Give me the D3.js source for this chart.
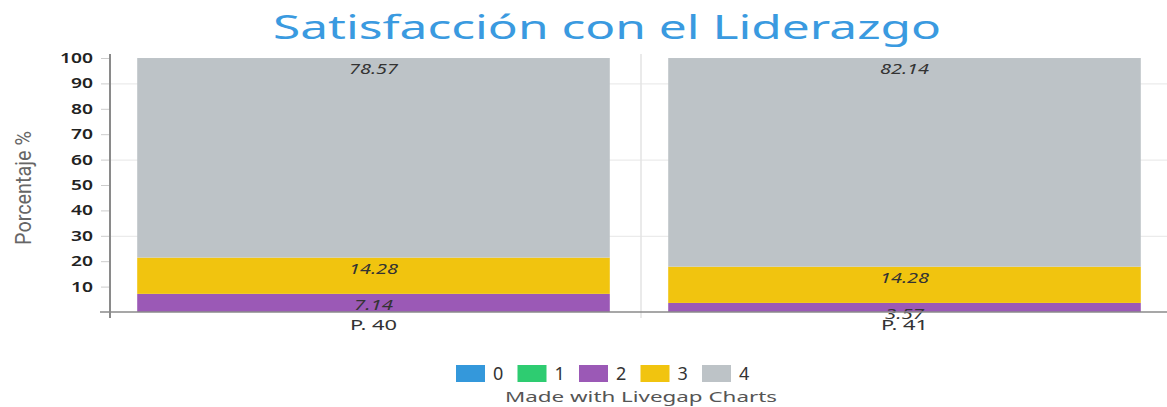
<!DOCTYPE html>
<html>
<head>
<meta charset="utf-8">
<script src="https://cdn.jsdelivr.net/npm/d3@7"></script>
<style>
  body { margin: 0; background: #fff; }
  svg { display: block; font-family: 'Noto Sans', sans-serif; }
</style>
</head>
<body>
<div id="vis"></div>
<script>
// data
var categories = ['P. 40', 'P. 41'];
var seriesKeys = ['0', '1', '2', '3', '4'];
var seriesColors = ['#3498db', '#2ecc71', '#9b59b6', '#f1c40f', '#bdc3c7'];
var values0 = [0, 0];
var values1 = [0, 0];
var values2 = [7.14, 3.57];
var values3 = [14.28, 14.28];
var values4 = [78.57, 82.14];
var yTicks = [10, 20, 30, 40, 50, 60, 70, 80, 90, 100];
var gridTicks = [30, 60, 90];

var width = 1167;
var height = 407;

// build rows for d3.stack
var table = categories.map(function (c, i) {
  return { cat: c, '0': values0[i], '1': values1[i], '2': values2[i], '3': values3[i], '4': values4[i] };
});

var svg = d3.select('#vis').append('svg')
  .attr('width', width)
  .attr('height', height);

var x = d3.scaleBand()
  .domain(categories)
  .range([108, 1170])
  .paddingInner(0.11)
  .paddingOuter(0.055);

var y = d3.scaleLinear()
  .domain([0, 100])
  .range([312, 58]);

var color = d3.scaleOrdinal().domain(seriesKeys).range(seriesColors);

// the original font is much wider, so stretch text to the widths measured
function widen(sel, perChar) {
  sel.attr('textLength', function () { return this.textContent.length * perChar; })
    .attr('lengthAdjust', 'spacingAndGlyphs');
}

// title
svg.append('text')
  .attr('x', 607)
  .attr('y', 39)
  .attr('text-anchor', 'middle')
  .attr('fill', '#3a9ae0')
  .attr('textLength', 668)
  .attr('lengthAdjust', 'spacingAndGlyphs')
  .style('font-size', '32px')
  .text('Satisfacción con el Liderazgo');

// horizontal grid lines
svg.append('g').selectAll('line')
  .data(gridTicks)
  .join('line')
  .attr('x1', 110).attr('x2', width)
  .attr('y1', function (d) { return y(d) + 0.5; })
  .attr('y2', function (d) { return y(d) + 0.5; })
  .attr('stroke', '#e6e6e6');

// vertical line between categories
var mid = (x(categories[0]) + x.bandwidth() + x(categories[1])) / 2 + 2;
svg.append('line')
  .attr('x1', mid).attr('x2', mid)
  .attr('y1', 54).attr('y2', 318)
  .attr('stroke', '#e3e3e3')
  .attr('stroke-width', 1.5);

// stacked bars
var stacked = d3.stack().keys(seriesKeys)(table);

var layers = svg.append('g').selectAll('g')
  .data(stacked)
  .join('g')
  .attr('fill', function (d) { return color(d.key); });

layers.selectAll('rect')
  .data(function (d) { return d; })
  .join('rect')
  .attr('x', function (d) { return x(d.data.cat); })
  .attr('width', x.bandwidth())
  .attr('y', function (d) { return y(d[1]); })
  .attr('height', function (d) { return y(d[0]) - y(d[1]); });

// value labels, near the top of each segment
layers.selectAll('text')
  .data(function (d) { return d.filter(function (s) { return s[1] - s[0] > 0; }); })
  .join('text')
  .attr('x', function (d) { return x(d.data.cat) + x.bandwidth() / 2; })
  .attr('y', function (d) { return y(d[1]) + 16; })
  .attr('text-anchor', 'middle')
  .attr('fill', '#333')
  .style('font-size', '14px')
  .style('font-style', 'italic')
  .text(function (d) { return d3.format('.2f')(d[1] - d[0]).replace(/0$/, ''); })
  .call(widen, 9.8);

// y axis
var yAxis = svg.append('g')
  .attr('transform', 'translate(110,0)')
  .call(d3.axisLeft(y).tickValues(yTicks).tickSize(9).tickPadding(8));
yAxis.select('.domain').remove();
yAxis.selectAll('.tick line').attr('stroke', '#ccc');
yAxis.selectAll('.tick text')
  .attr('fill', '#222')
  .style('font-size', '14px')
  .style('font-weight', '600')
  .style('font-family', "'Noto Sans', sans-serif")
  .call(widen, 11);

svg.append('line')
  .attr('x1', 110).attr('x2', 110)
  .attr('y1', 54).attr('y2', 318)
  .attr('stroke', '#8a8a8a')
  .attr('stroke-width', 2);

// x axis
var xAxis = svg.append('g')
  .attr('transform', 'translate(0,312)')
  .call(d3.axisBottom(x).tickSize(0).tickPadding(8));
xAxis.select('.domain').remove();
xAxis.selectAll('.tick text')
  .attr('fill', '#333')
  .style('font-size', '14px')
  .style('font-family', "'Noto Sans', sans-serif")
  .call(widen, 9.4);

svg.append('line')
  .attr('x1', 100).attr('x2', width)
  .attr('y1', 312).attr('y2', 312)
  .attr('stroke', '#8a8a8a')
  .attr('stroke-width', 1.5);

// y axis title
svg.append('text')
  .attr('transform', 'translate(31,188) rotate(-90)')
  .attr('text-anchor', 'middle')
  .attr('fill', '#666')
  .attr('textLength', 114)
  .attr('lengthAdjust', 'spacingAndGlyphs')
  .style('font-family', "'Liberation Sans Narrow', 'Roboto', sans-serif")
  .style('font-size', '22px')
  .text('Porcentaje %');

// legend
var legend = svg.append('g').selectAll('g')
  .data(seriesKeys)
  .join('g')
  .attr('transform', function (d, i) { return 'translate(' + (456 + i * 61.5) + ',365)'; });

legend.append('rect')
  .attr('width', 29)
  .attr('height', 17)
  .attr('fill', function (d) { return color(d); });

legend.append('text')
  .attr('x', 37)
  .attr('y', 15)
  .attr('fill', '#333')
  .style('font-size', '18px')
  .text(function (d) { return d; });

// footer
svg.append('text')
  .attr('x', 641)
  .attr('y', 402)
  .attr('text-anchor', 'middle')
  .attr('fill', '#555')
  .attr('textLength', 272)
  .attr('lengthAdjust', 'spacingAndGlyphs')
  .style('font-size', '14px')
  .text('Made with Livegap Charts');
</script>
</body>
</html>
